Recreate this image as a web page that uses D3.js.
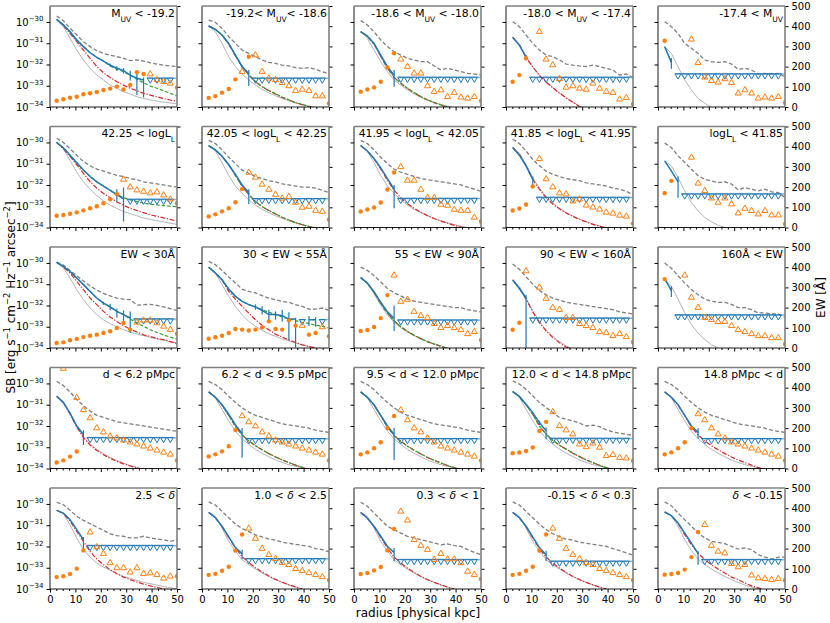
<!DOCTYPE html>
<html>
<head>
<meta charset="utf-8">
<script src="https://cdn.jsdelivr.net/npm/d3@7"></script>
<style>
  body { margin: 0; background: #fff; }
  text { font-family: "DejaVu Sans", sans-serif; }
</style>
</head>
<body>
<svg id="chart" width="830" height="623"></svg>
<script>
const _ = null;

// radial bins [physical kpc]
const radius = [2.63, 5.26, 7.89, 10.53, 13.16, 15.79, 18.42, 21.05, 23.68, 26.32,
                28.95, 31.58, 34.21, 36.84, 39.47, 42.11, 44.74, 47.37, 50.0];
const binHalf = 1.32;

const panelLabels = [
  "M_{UV} < -19.2", "-19.2< M_{UV}< -18.6", "-18.6 < M_{UV} < -18.0", "-18.0 < M_{UV} < -17.4", "-17.4 < M_{UV}",
  "42.25 < logL_{L}", "42.05 < logL_{L} < 42.25", "41.95 < logL_{L} < 42.05", "41.85 < logL_{L} < 41.95", "logL_{L} < 41.85",
  "EW < 30Å", "30 < EW < 55Å", "55 < EW < 90Å", "90 < EW < 160Å", "160Å < EW",
  "d < 6.2 pMpc", "6.2 < d < 9.5 pMpc", "9.5 < d < 12.0 pMpc", "12.0 < d < 14.8 pMpc", "14.8 pMpc < d",
  "2.5 < δ", "1.0 < δ < 2.5", "0.3 < δ < 1", "-0.15 < δ < 0.3", "δ < -0.15"
];

// log10 SB of the detected profile (blue)
const sbProfile = [
  [-29.88,-30.14,-30.46,-30.85,-31.16,-31.45,-31.67,-31.84,-32.03,-32.18,-32.29,-32.5,-32.65,-32.73,_,_,_,_,_],
  [-30.19,-30.35,-30.61,-31.01,-31.56,-32.1,-32.42,_,_,_,_,_,_,_,_,_,_,_,_],
  [-30.46,-30.66,-31.01,-31.56,-32.1,-32.5,_,_,_,_,_,_,_,_,_,_,_,_,_],
  [-30.72,-31.09,-31.64,_,_,_,_,_,_,_,_,_,_,_,_,_,_,_,_],
  [-31.16,-31.9,_,_,_,_,_,_,_,_,_,_,_,_,_,_,_,_,_],
  [-30.0,-30.25,-30.6,-30.95,-31.3,-31.6,-31.85,-32.05,-32.25,-32.45,-32.65,_,_,_,_,_,_,_,_],
  [-30.15,-30.35,-30.65,-31.05,-31.5,-32.0,-32.35,_,_,_,_,_,_,_,_,_,_,_,_],
  [-30.15,-30.4,-30.75,-31.2,-31.7,-32.2,_,_,_,_,_,_,_,_,_,_,_,_,_],
  [-30.24,-30.6,-31.1,-31.74,_,_,_,_,_,_,_,_,_,_,_,_,_,_,_],
  [-30.87,-31.34,-31.85,_,_,_,_,_,_,_,_,_,_,_,_,_,_,_,_],
  [-29.97,-30.16,-30.4,-30.71,-31.02,-31.34,-31.65,-31.89,-32.07,-32.28,-32.43,-32.59,_,_,_,_,_,_,_],
  [-30.2,-30.47,-30.79,-31.23,-31.57,-31.81,-31.96,-32.07,-32.23,-32.43,-32.43,-32.48,-32.64,-32.64,_,-32.67,-32.67,_,_],
  [-30.69,-30.95,-31.35,-31.85,-32.3,-32.6,_,_,_,_,_,_,_,_,_,_,_,_,_],
  [-30.8,-31.2,-31.65,_,_,_,_,_,_,_,_,_,_,_,_,_,_,_,_],
  [-30.75,-31.3,_,_,_,_,_,_,_,_,_,_,_,_,_,_,_,_,_],
  [-30.6,-30.9,-31.4,-32.0,-32.4,_,_,_,_,_,_,_,_,_,_,_,_,_,_],
  [-30.4,-30.65,-31.0,-31.45,-31.95,-32.35,_,_,_,_,_,_,_,_,_,_,_,_,_],
  [-30.4,-30.65,-31.0,-31.5,-32.0,-32.4,_,_,_,_,_,_,_,_,_,_,_,_,_],
  [-30.38,-30.61,-30.98,-31.37,-31.84,-32.23,_,_,_,_,_,_,_,_,_,_,_,_,_],
  [-30.4,-30.65,-31.0,-31.5,-32.0,-32.3,_,_,_,_,_,_,_,_,_,_,_,_,_],
  [-30.3,-30.43,-30.74,-31.21,-31.68,_,_,_,_,_,_,_,_,_,_,_,_,_,_],
  [-30.4,-30.65,-31.05,-31.55,-32.05,-32.35,_,_,_,_,_,_,_,_,_,_,_,_,_],
  [-30.4,-30.67,-31.05,-31.52,-32.0,-32.28,_,_,_,_,_,_,_,_,_,_,_,_,_],
  [-30.4,-30.65,-31.05,-31.55,-32.05,-32.4,_,_,_,_,_,_,_,_,_,_,_,_,_],
  [-30.38,-30.55,-30.9,-31.37,-31.84,-32.34,_,_,_,_,_,_,_,_,_,_,_,_,_]
];

// error bars: [bin, log10 upper, log10 lower]
const sbErrors = [
  [[8,-31.95,-32.1],[9,-32.08,-32.3],[10,-32.17,-32.42],[11,-32.3,-32.75],[12,-32.42,-33.44],[13,-32.61,-33.55]],
  [[5,-32.02,-32.18],[6,-32.26,-33.01]],
  [[5,-32.26,-33.05]],
  [[2,-31.55,-31.8]],
  [[1,-31.7,-32.2]],
  [[9,-32.2,-32.8],[10,-32.12,-33.72]],
  [[6,-32.2,-32.9]],
  [[5,-32.0,-33.1]],
  [[3,-31.6,-32.0]],
  [[2,-31.6,-32.6]],
  [[7,-31.82,-31.97],[8,-31.92,-32.22],[9,-32.15,-32.57],[10,-32.23,-32.85],[11,-32.28,-33.29]],
  [[7,-31.95,-32.2],[8,-32.04,-32.43],[9,-32.2,-32.75],[10,-32.28,-32.67],[11,-32.2,-32.75],[12,-32.32,-33.65],[13,-32.58,-33.97],[15,-32.5,-32.97],[16,-32.55,-33.0]],
  [[5,-32.0,-33.2]],
  [[2,-31.5,-34.0]],
  [[1,-31.1,-31.6]],
  [[4,-32.2,-32.9]],
  [[5,-32.1,-33.5]],
  [[5,-32.1,-33.6]],
  [[4,-31.75,-31.95],[5,-32.07,-32.62]],
  [[5,-32.1,-32.6]],
  [[4,-31.56,-32.12]],
  [[5,-32.15,-32.6]],
  [[5,-32.07,-32.7]],
  [[5,-32.2,-32.7]],
  [[5,-32.23,-32.86]]
];

// upper limits: log10 level and bins
const ulLevel = [-32.65,-32.65,-32.61,-32.61,-32.45, -32.68,-32.65,-32.64,-32.59,-32.43,
                 -32.64,-32.67,-32.69,-32.6,-32.45, -32.55,-32.6,-32.6,-32.59,-32.6,
                 -31.96,-32.58,-32.62,-32.7,-32.62];
const ulBins = [
  [14,15,16,17], [7,8,9,10,11,12,13,14,15,16,17], [6,7,8,9,10,11,12,13,14,15,16,17],
  [3,4,5,6,7,8,9,10,11,12,13,14,15,16,17], [2,3,4,5,6,7,8,9,10,11,12,13,14,15,16,17],
  [11,12,13,14,15,16,17], [7,8,9,10,11,12,13,14,15,16,17], [6,7,8,9,10,11,12,13,14,15,16,17],
  [4,5,6,7,8,9,10,11,12,13,14,15,16,17], [3,4,5,6,7,8,9,10,11,12,13,14,15,16,17],
  [12,13,14,15,16,17], [14,17], [6,7,8,9,10,11,12,13,14,15,16,17],
  [3,4,5,6,7,8,9,10,11,12,13,14,15,16,17], [2,3,4,5,6,7,8,9,10,11,12,13,14,15,16,17],
  [5,6,7,8,9,10,11,12,13,14,15,16,17], [6,7,8,9,10,11,12,13,14,15,16,17], [6,7,8,9,10,11,12,13,14,15,16,17],
  [6,7,8,9,10,11,12,13,14,15,16,17], [6,7,8,9,10,11,12,13,14,15,16,17],
  [5,6,7,8,9,10,11,12,13,14,15,16,17], [6,7,8,9,10,11,12,13,14,15,16,17], [6,7,8,9,10,11,12,13,14,15,16,17],
  [6,7,8,9,10,11,12,13,14,15,16,17], [6,7,8,9,10,11,12,13,14,15,16,17]
];

// grey dashed (upper envelope)
const noise = [
  [-29.72,-29.94,-30.3,-30.61,-30.93,-31.16,-31.35,-31.48,-31.56,-31.63,-31.71,-31.82,-31.79,-31.84,-31.92,-31.98,-32.03,-32.07,-32.1],
  [-29.91,-30.02,-30.3,-30.69,-31.01,-31.32,-31.48,-31.63,-31.79,-31.9,-31.95,-32.03,-32.07,-32.15,-32.18,-32.15,-32.23,-32.34,-32.42],
  [-29.94,-30.14,-30.46,-30.85,-31.16,-31.4,-31.56,-31.71,-31.79,-31.87,-31.87,-32.07,-32.26,-32.18,-32.26,-32.34,-32.42,-32.45,-32.5],
  [-29.99,-30.22,-30.61,-31.01,-31.32,-31.56,-31.63,-31.79,-31.98,-32.03,-32.07,-32.1,-32.03,-32.1,-32.18,-32.26,-32.5,-32.45,-32.61],
  [-29.99,-30.22,-30.54,-31.01,-31.24,-31.48,-31.79,-31.87,-31.9,-31.87,-31.98,-32.23,-32.18,-32.26,-32.45,-32.42,-32.45,-32.42,-32.58],
  [-29.8,-30.0,-30.3,-30.6,-30.9,-31.1,-31.25,-31.35,-31.45,-31.55,-31.6,-31.7,-31.75,-31.85,-31.9,-31.95,-32.0,-32.05,-32.1],
  [-29.9,-30.05,-30.35,-30.7,-31.0,-31.3,-31.45,-31.6,-31.7,-31.8,-31.85,-31.95,-32.0,-32.05,-32.1,-32.1,-32.15,-32.25,-32.35],
  [-29.9,-30.05,-30.35,-30.7,-31.0,-31.25,-31.4,-31.5,-31.6,-31.7,-31.75,-31.8,-31.85,-31.9,-31.95,-32.0,-32.1,-32.2,-32.3],
  [-29.85,-30.05,-30.4,-30.8,-31.1,-31.35,-31.5,-31.6,-31.7,-31.75,-31.8,-31.9,-31.95,-32.0,-32.05,-32.15,-32.2,-32.3,-32.45],
  [-30.03,-30.24,-30.63,-30.94,-31.26,-31.57,-31.73,-31.81,-31.89,-31.85,-31.96,-32.23,-32.12,-32.2,-32.28,-32.2,-32.32,-32.36,-32.59],
  [-29.97,-30.1,-30.35,-30.6,-30.85,-31.08,-31.28,-31.43,-31.55,-31.65,-31.7,-31.72,-31.98,-31.96,-31.95,-32.0,-32.07,-32.15,-32.23],
  [-29.92,-30.08,-30.35,-30.66,-30.94,-31.23,-31.34,-31.41,-31.54,-31.65,-31.73,-31.81,-31.85,-31.96,-32.04,-32.17,-32.17,-32.12,-32.23],
  [-30.2,-30.35,-30.6,-30.9,-31.2,-31.4,-31.55,-31.7,-31.8,-31.85,-31.9,-31.95,-32.0,-32.05,-32.1,-32.1,-32.2,-32.25,-32.3],
  [-30.05,-30.3,-30.65,-31.0,-31.3,-31.5,-31.65,-31.75,-31.85,-31.9,-31.95,-32.0,-32.05,-32.1,-32.15,-32.2,-32.3,-32.35,-32.4],
  [-30.0,-30.25,-30.6,-30.95,-31.25,-31.5,-31.7,-31.8,-31.85,-31.85,-31.95,-32.1,-32.1,-32.2,-32.35,-32.35,-32.4,-32.4,-32.55],
  [-29.9,-30.1,-30.4,-30.75,-31.05,-31.3,-31.5,-31.6,-31.7,-31.8,-31.85,-31.9,-31.95,-32.0,-32.05,-32.1,-32.15,-32.2,-32.25],
  [-29.9,-30.05,-30.3,-30.6,-30.9,-31.15,-31.35,-31.5,-31.6,-31.7,-31.8,-31.9,-31.95,-32.0,-32.05,-32.1,-32.2,-32.25,-32.3],
  [-29.9,-30.05,-30.3,-30.6,-30.9,-31.15,-31.35,-31.5,-31.6,-31.7,-31.8,-31.9,-31.95,-32.0,-32.05,-32.1,-32.2,-32.25,-32.3],
  [-29.88,-30.03,-30.27,-30.58,-30.9,-31.13,-31.37,-31.6,-31.68,-31.76,-31.87,-32.0,-31.96,-32.03,-32.18,-32.28,-32.34,-32.4,-32.43],
  [-29.9,-30.05,-30.3,-30.6,-30.9,-31.15,-31.35,-31.5,-31.6,-31.7,-31.8,-31.9,-31.95,-32.0,-32.05,-32.1,-32.2,-32.25,-32.3],
  [-29.92,-30.03,-30.3,-30.58,-30.77,-30.93,-31.09,-31.24,-31.41,-31.49,-31.52,-31.6,-31.6,-31.52,-31.6,-31.65,-31.68,-31.76,-31.68],
  [-29.9,-30.05,-30.35,-30.65,-30.95,-31.15,-31.3,-31.45,-31.55,-31.65,-31.7,-31.8,-31.85,-31.9,-31.95,-32.0,-32.1,-32.15,-32.25],
  [-29.92,-30.11,-30.43,-30.74,-31.05,-31.21,-31.37,-31.52,-31.6,-31.68,-31.76,-31.84,-31.92,-31.88,-31.96,-32.0,-32.15,-32.28,-32.39],
  [-29.9,-30.05,-30.35,-30.65,-30.95,-31.2,-31.4,-31.55,-31.65,-31.7,-31.8,-31.85,-31.9,-31.95,-32.0,-32.1,-32.2,-32.3,-32.4],
  [-29.91,-30.08,-30.43,-30.74,-31.05,-31.37,-31.6,-31.76,-31.81,-31.87,-32.0,-32.12,-32.07,-32.15,-32.39,-32.5,-32.59,-32.5,-32.5]
];

// thin grey (PSF)
const psf = [
  [-29.91,-30.22,-30.77,-31.32,-31.79,-32.18,-32.5,-32.73,-32.97,-33.12,-33.28,-33.39,-33.52,-33.6,-33.67,-33.72,-33.77,-33.81,-33.85],
  [-30.19,-30.46,-31.01,-31.64,-32.1,-32.45,-32.73,-32.97,-33.17,-33.33,-33.47,-33.6,-33.7,-33.8,-33.88,-33.96,-34.02,_,_],
  [-30.46,-30.77,-31.32,-31.87,-32.34,-32.73,-32.97,-33.2,-33.39,-33.55,-33.67,-33.78,-33.88,-33.96,-34.03,_,_,_,_],
  [-30.72,-31.05,-31.64,-32.1,-32.5,-32.81,-33.08,-33.33,-33.55,-33.76,-33.96,-34.1,_,_,_,_,_,_,_],
  [-31.16,-31.48,-32.1,-32.73,-33.2,-33.6,-33.83,-34.02,_,_,_,_,_,_,_,_,_,_,_],
  [-30.0,-30.3,-30.85,-31.4,-31.85,-32.2,-32.5,-32.75,-32.95,-33.1,-33.25,-33.35,-33.45,-33.55,-33.62,-33.68,-33.74,-33.8,-33.85],
  [-30.15,-30.4,-30.95,-31.55,-32.05,-32.4,-32.7,-32.95,-33.15,-33.3,-33.45,-33.57,-33.68,-33.78,-33.86,-33.94,-34.0,_,_],
  [-30.15,-30.4,-30.95,-31.55,-32.05,-32.4,-32.7,-32.95,-33.15,-33.3,-33.45,-33.57,-33.68,-33.78,-33.86,-33.94,-34.0,_,_],
  [-30.24,-30.5,-31.05,-31.65,-32.15,-32.55,-32.85,-33.1,-33.3,-33.45,-33.6,-33.72,-33.83,-33.92,-34.0,_,_,_,_],
  [-30.87,-31.1,-31.65,-32.28,-32.83,-33.22,-33.53,-33.74,-33.89,-34.0,_,_,_,_,_,_,_,_,_],
  [-29.97,-30.24,-30.71,-31.26,-31.73,-32.12,-32.43,-32.67,-32.86,-33.01,-33.14,-33.25,-33.34,-33.42,-33.5,-33.58,-33.64,-33.7,-33.76],
  [-30.2,-30.47,-31.02,-31.57,-32.04,-32.43,-32.75,-32.98,-33.17,-33.33,-33.45,-33.58,-33.66,-33.77,-33.85,-33.93,-34.0,_,_],
  [-30.69,-30.95,-31.45,-32.0,-32.45,-32.8,-33.05,-33.25,-33.42,-33.57,-33.7,-33.8,-33.9,-34.0,_,_,_,_,_],
  [-30.8,-31.1,-31.65,-32.25,-32.75,-33.15,-33.45,-33.7,-33.9,-34.05,_,_,_,_,_,_,_,_,_],
  [-30.75,-31.1,-31.7,-32.35,-32.9,-33.3,-33.6,-33.85,-34.0,_,_,_,_,_,_,_,_,_,_],
  [-30.6,-30.85,-31.4,-32.0,-32.5,-32.85,-33.1,-33.3,-33.48,-33.62,-33.75,-33.86,-33.95,-34.03,_,_,_,_,_],
  [-30.4,-30.68,-31.22,-31.77,-32.24,-32.6,-32.87,-33.1,-33.29,-33.45,-33.6,-33.72,-33.82,-33.9,-33.97,-34.05,_,_,_],
  [-30.4,-30.68,-31.22,-31.77,-32.24,-32.6,-32.87,-33.1,-33.29,-33.45,-33.6,-33.72,-33.82,-33.9,-33.97,-34.05,_,_,_],
  [-30.38,-30.66,-31.21,-31.76,-32.23,-32.59,-32.86,-33.09,-33.28,-33.44,-33.6,-33.72,-33.82,-33.88,-33.96,-34.03,_,_,_],
  [-30.4,-30.68,-31.22,-31.77,-32.24,-32.6,-32.87,-33.1,-33.29,-33.45,-33.6,-33.72,-33.82,-33.9,-33.97,-34.05,_,_,_],
  [-30.3,-30.46,-30.98,-31.6,-32.15,-32.5,-32.78,-32.97,-33.12,-33.28,-33.41,-33.5,-33.6,-33.69,-33.75,-33.82,-33.88,-33.94,-33.99],
  [-30.4,-30.58,-31.13,-31.76,-32.23,-32.62,-32.86,-33.06,-33.25,-33.41,-33.56,-33.69,-33.82,-33.91,-34.0,_,_,_,_],
  [-30.4,-30.58,-31.13,-31.76,-32.23,-32.62,-32.86,-33.06,-33.25,-33.41,-33.56,-33.69,-33.82,-33.91,-34.0,_,_,_,_],
  [-30.4,-30.58,-31.13,-31.76,-32.23,-32.62,-32.86,-33.06,-33.25,-33.41,-33.56,-33.69,-33.82,-33.91,-34.0,_,_,_,_],
  [-30.38,-30.55,-31.05,-31.68,-32.2,-32.59,-32.86,-33.06,-33.25,-33.41,-33.56,-33.69,-33.82,-33.91,-34.0,_,_,_,_]
];

// red dash-dot model
const model = [
  [-29.88,-30.16,-30.54,-30.93,-31.32,-31.71,-32.1,-32.39,-32.61,-32.81,-32.97,-33.12,-33.23,-33.36,-33.44,-33.52,-33.6,-33.67,-33.72],
  [-30.19,-30.35,-30.61,-31.05,-31.6,-32.1,-32.5,-32.81,-33.05,-33.23,-33.39,-33.55,-33.67,-33.8,-33.89,-33.99,-34.07,_,_],
  [-30.46,-30.68,-31.05,-31.62,-32.18,-32.61,-32.89,-33.13,-33.33,-33.52,-33.67,-33.8,-33.91,-34.02,_,_,_,_,_],
  [-30.72,-31.08,-31.66,-32.12,-32.52,-32.83,-33.1,-33.35,-33.57,-33.78,-33.98,-34.12,_,_,_,_,_,_,_],
  [_,_,_,_,_,_,_,_,_,_,_,_,_,_,_,_,_,_,_],
  [-30.0,-30.3,-30.65,-31.05,-31.45,-31.85,-32.15,-32.4,-32.6,-32.8,-32.95,-33.1,-33.2,-33.3,-33.4,-33.47,-33.55,-33.62,-33.7],
  [-30.15,-30.35,-30.65,-31.05,-31.55,-32.05,-32.45,-32.78,-33.02,-33.2,-33.36,-33.52,-33.65,-33.77,-33.87,-33.96,-34.05,_,_],
  [-30.15,-30.4,-30.78,-31.25,-31.78,-32.25,-32.6,-32.88,-33.1,-33.28,-33.44,-33.58,-33.7,-33.8,-33.9,-33.98,-34.05,_,_],
  [-30.24,-30.55,-31.1,-31.74,-32.2,-32.6,-32.9,-33.12,-33.32,-33.48,-33.62,-33.74,-33.85,-33.94,-34.02,_,_,_,_],
  [_,_,_,_,_,_,_,_,_,_,_,_,_,_,_,_,_,_,_],
  [-29.97,-30.19,-30.47,-30.87,-31.26,-31.65,-31.96,-32.28,-32.54,-32.75,-32.95,-33.11,-33.25,-33.38,-33.46,-33.55,-33.61,-33.7,-33.8],
  [-30.2,-30.47,-30.8,-31.34,-31.7,-32.04,-32.36,-32.67,-32.94,-33.14,-33.35,-33.49,-33.62,-33.74,-33.85,-33.93,-34.0,_,_],
  [-30.69,-30.95,-31.38,-31.9,-32.35,-32.72,-33.0,-33.22,-33.4,-33.56,-33.7,-33.82,-33.92,-34.02,_,_,_,_,_],
  [-30.8,-31.2,-31.7,-32.3,-32.8,-33.2,-33.5,-33.75,-33.95,-34.1,_,_,_,_,_,_,_,_,_],
  [_,_,_,_,_,_,_,_,_,_,_,_,_,_,_,_,_,_,_],
  [-30.6,-30.9,-31.45,-32.05,-32.55,-32.9,-33.15,-33.35,-33.52,-33.66,-33.78,-33.88,-33.97,-34.05,_,_,_,_,_],
  [-30.4,-30.65,-31.02,-31.5,-32.02,-32.42,-32.7,-32.93,-33.12,-33.3,-33.46,-33.6,-33.72,-33.84,-33.95,-34.05,_,_,_],
  [-30.4,-30.65,-31.02,-31.52,-32.05,-32.45,-32.72,-32.95,-33.14,-33.32,-33.48,-33.62,-33.74,-33.86,-33.96,-34.05,_,_,_],
  [-30.38,-30.62,-31.0,-31.45,-32.0,-32.39,-32.67,-32.91,-33.09,-33.28,-33.44,-33.6,-33.72,-33.85,-33.96,-34.05,_,_,_],
  [-30.4,-30.65,-31.02,-31.52,-32.05,-32.42,-32.7,-32.93,-33.12,-33.3,-33.46,-33.6,-33.72,-33.84,-33.95,-34.05,_,_,_],
  [-30.3,-30.45,-30.8,-31.29,-31.76,-32.23,-32.59,-32.86,-33.09,-33.28,-33.44,-33.56,-33.67,-33.77,-33.85,-33.93,-33.99,-34.05,-34.1],
  [-30.4,-30.65,-31.07,-31.58,-32.07,-32.48,-32.76,-33.0,-33.2,-33.39,-33.55,-33.68,-33.8,-33.9,-34.0,_,_,_,_],
  [-30.4,-30.67,-31.07,-31.58,-32.07,-32.5,-32.78,-33.02,-33.22,-33.41,-33.56,-33.69,-33.8,-33.91,-34.0,_,_,_,_],
  [-30.4,-30.65,-31.07,-31.6,-32.1,-32.5,-32.78,-33.02,-33.22,-33.41,-33.56,-33.69,-33.8,-33.91,-34.0,_,_,_,_],
  [-30.38,-30.55,-30.92,-31.45,-31.92,-32.31,-32.62,-32.86,-33.06,-33.25,-33.44,-33.56,-33.72,-33.85,-33.95,-34.05,_,_,_]
];

// green dashed fit
const fit = [
  [-29.88,-30.14,-30.46,-30.85,-31.16,-31.45,-31.67,-31.84,-32.07,-32.23,-32.34,-32.5,-32.7,-32.86,-33.01,-33.12,-33.23,-33.36,-33.47],
  [-30.19,-30.35,-30.61,-31.03,-31.58,-32.1,-32.48,-32.8,-33.04,-33.22,-33.38,-33.54,-33.66,-33.79,-33.88,-33.98,-34.06,_,_],
  [-30.46,-30.67,-31.03,-31.6,-32.16,-32.6,-32.88,-33.12,-33.32,-33.51,-33.66,-33.79,-33.9,-34.01,_,_,_,_,_],
  _, _,
  [-30.0,-30.25,-30.6,-30.95,-31.3,-31.6,-31.85,-32.05,-32.25,-32.45,-32.6,-32.7,-32.78,-32.85,-32.9,-32.94,-32.97,-33.0,-33.02],
  [-30.15,-30.35,-30.65,-31.05,-31.55,-32.05,-32.45,-32.78,-33.02,-33.2,-33.36,-33.52,-33.65,-33.77,-33.87,-33.96,-34.05,_,_],
  _, _, _,
  [-29.97,-30.16,-30.4,-30.71,-31.02,-31.34,-31.65,-31.89,-32.07,-32.28,-32.43,-32.64,-32.83,-32.98,-33.14,-33.27,-33.39,-33.49,-33.58],
  [-30.2,-30.47,-30.79,-31.23,-31.57,-31.81,-31.96,-32.07,-32.2,-32.32,-32.43,-32.54,-32.64,-32.71,-32.79,-32.85,-32.93,-32.98,-33.06],
  [-30.69,-30.95,-31.38,-31.9,-32.35,-32.72,-33.0,-33.22,-33.4,-33.56,-33.7,-33.82,-33.92,-34.02,_,_,_,_,_],
  _, _, _,
  [-30.4,-30.65,-31.02,-31.5,-32.02,-32.42,-32.7,-32.93,-33.12,-33.3,-33.46,-33.6,-33.72,-33.84,-33.95,-34.05,_,_,_],
  [-30.4,-30.65,-31.02,-31.52,-32.05,-32.45,-32.72,-32.95,-33.14,-33.32,-33.48,-33.62,-33.74,-33.86,-33.96,-34.05,_,_,_],
  [-30.38,-30.62,-31.0,-31.45,-32.0,-32.39,-32.67,-32.91,-33.09,-33.28,-33.44,-33.6,-33.72,-33.85,-33.96,-34.05,_,_,_],
  _, _, _, _, _, _
];

// EW [Å], detections (orange dots) and lower limits (orange triangles)
const ewDetected = [
  [31,38,46,51,63,68,74,84,91,101,87,109,172,163,_,_,_,_,97],
  [45,54,71,89,137,_,249,_,_,_,_,_,_,_,_,_,_,_,18],
  [76,87,97,125,196,266,_,_,_,_,_,_,_,_,_,_,_,_,31],
  [125,158,241,_,_,_,_,_,_,_,_,_,_,_,_,_,_,_,15],
  [328,_,_,_,_,_,_,_,_,_,_,_,_,_,_,_,_,_,21],
  [58,62,68,75,85,95,105,120,140,165,_,_,_,_,_,_,_,_,120],
  [55,65,80,95,125,190,_,_,_,_,_,_,_,_,_,_,_,_,40],
  [79,89,99,124,188,272,_,_,_,_,_,_,_,_,_,_,_,_,30],
  [84,94,114,203,_,_,_,_,_,_,_,_,_,_,_,_,_,_,20],
  [170,231,_,_,_,_,_,_,_,_,_,_,_,_,_,_,_,_,17],
  [25,28,38,45,54,61,66,74,83,99,124,91,_,_,_,_,_,_,71],
  [46,53,61,74,94,91,87,91,102,132,94,91,137,111,_,66,74,_,58],
  [84,89,104,148,262,_,_,_,_,_,_,_,_,_,_,_,_,_,40],
  [90,125,_,_,_,_,_,_,_,_,_,_,_,_,_,_,_,_,30],
  [341,_,_,_,_,_,_,_,_,_,_,_,_,_,_,_,_,_,20],
  [30,40,59,84,_,_,_,_,_,_,_,_,_,_,_,_,_,_,40],
  [60,70,85,110,190,_,_,_,_,_,_,_,_,_,_,_,_,_,40],
  [70,80,100,130,200,260,_,_,_,_,_,_,_,_,_,_,_,_,40],
  [76,79,87,104,186,231,_,_,_,_,_,_,_,_,_,_,_,_,38],
  [70,80,100,130,200,_,_,_,_,_,_,_,_,_,_,_,_,_,40],
  [59,63,74,101,191,_,_,_,_,_,_,_,_,_,_,_,_,_,63],
  [70,75,90,110,190,270,_,_,_,_,_,_,_,_,_,_,_,_,45],
  [74,79,92,109,191,297,_,_,_,_,_,_,_,_,_,_,_,_,50],
  [70,75,90,110,190,270,_,_,_,_,_,_,_,_,_,_,_,_,45],
  [71,74,79,96,158,282,_,_,_,_,_,_,_,_,_,_,_,_,43]
];
const ewLimit = [
  [_,_,_,_,_,_,_,_,_,_,_,_,_,_,163,134,125,117,_],
  [_,_,_,_,_,175,_,257,175,142,134,120,104,81,87,81,54,54,_],
  [_,_,_,_,_,_,236,200,167,167,104,76,84,51,71,48,43,51,_],
  [_,_,_,_,373,236,208,140,97,104,92,87,117,92,76,71,38,46,_],
  [_,_,_,_,335,219,147,130,122,139,120,68,84,68,43,48,43,51,_],
  [_,_,_,_,_,_,_,_,_,_,238,200,185,178,170,175,160,140,_],
  [_,_,_,_,_,_,272,248,213,188,163,144,153,124,99,104,84,79,_],
  [_,_,_,_,_,_,300,233,233,188,148,148,114,109,89,84,84,50,_],
  [_,_,_,_,340,240,200,170,165,130,140,110,100,90,75,70,60,55,_],
  [_,_,_,_,347,219,182,145,124,145,116,71,94,83,66,83,61,61,_],
  [_,_,_,_,_,_,_,_,_,_,_,_,127,137,137,124,107,91,_],
  [_,_,_,_,_,_,_,_,_,_,_,_,_,_,111,_,_,104,_],
  [_,_,_,_,_,360,230,240,180,160,150,120,100,110,100,90,70,80,_],
  [_,_,381,_,300,245,200,190,150,150,120,110,100,80,75,60,70,55,_],
  [_,_,_,360,250,200,150,140,130,130,110,90,80,70,60,60,50,50,_],
  [_,495,_,350,290,250,200,180,160,150,140,130,120,110,100,90,80,70,_],
  [_,_,_,_,_,260,230,210,180,160,140,130,120,110,100,90,80,70,_],
  [_,_,_,_,_,_,290,240,200,180,150,130,110,100,90,80,70,60,_],
  [_,_,_,_,_,_,280,211,190,170,120,107,125,104,63,68,54,51,_],
  [_,_,_,_,_,270,240,200,170,150,130,120,110,100,90,80,70,60,_],
  [_,_,_,_,_,281,208,175,129,104,104,83,104,76,79,71,53,63,_],
  [_,_,_,_,_,_,300,250,200,170,150,130,120,100,90,80,70,60,_],
  [_,_,_,_,_,_,384,340,244,215,195,145,175,148,148,129,87,71,_],
  [_,_,_,_,_,_,300,250,200,170,150,130,120,100,90,80,70,60,_],
  [_,_,_,_,_,_,318,215,186,178,125,109,120,68,54,51,46,51,_]
];

const decades = [1e-34, 1e-33, 1e-32, 1e-31, 1e-30];
const ewTicks = [0, 100, 200, 300, 400, 500];
const radiusTicks = [0, 10, 20, 30, 40, 50];
const radiusMinor = [2.5, 5, 7.5, 12.5, 15, 17.5, 22.5, 25, 27.5, 32.5, 35, 37.5, 42.5, 45, 47.5];

// ---- layout ----
const W = 127, H = 101;
const colLeft = [50, 202, 354, 506, 658];
const rowTop = [6, 126.5, 247, 367.5, 488];

const C = { blue: "#1f77b4", orange: "#ff7f0e", green: "#2ca02c", red: "#d62728", grey: "#7f7f7f", light: "#ababab" };

const svg = d3.select("#chart");

const x = d3.scaleLinear().domain([0, 50]).range([0, W]);
const y = d3.scaleLog().domain([1e-34, Math.pow(10, -29.25)]).range([H, 0]);
const yEW = d3.scaleLinear().domain([0, 500]).range([H, 0]);

function rich(sel, str, size) {
  str.split(/(_\{[^}]*\}|\^\{[^}]*\}|δ)/).forEach(part => {
    if (!part) return;
    if (part.startsWith("_{")) sel.append("tspan").attr("baseline-shift", "sub").attr("font-size", size * 0.7).text(part.slice(2, -1));
    else if (part.startsWith("^{")) sel.append("tspan").attr("baseline-shift", "super").attr("font-size", size * 0.7).text(part.slice(2, -1));
    else if (part === "δ") sel.append("tspan").attr("font-style", "italic").text(part);
    else sel.append("tspan").text(part);
  });
}

const sbLine = d3.line()
  .defined(d => d[1] != null)
  .x(d => x(d[0]))
  .y(d => y(Math.pow(10, d[1])));
const pairs = vals => vals.map((v, i) => [radius[i], v]);

const triUp = d3.symbol(d3.symbolTriangle, 16)();

for (let p = 0; p < 25; p++) {
  const r = Math.floor(p / 5), c = p % 5;
  const g = svg.append("g").attr("transform", `translate(${colLeft[c]},${rowTop[r]})`);

  g.append("clipPath").attr("id", "clip" + p)
    .append("rect").attr("width", W).attr("height", H);
  const plot = g.append("g").attr("clip-path", `url(#clip${p})`);

  // curves
  plot.append("path").attr("d", sbLine(pairs(noise[p])))
    .attr("fill", "none").attr("stroke", C.grey).attr("stroke-width", 1.3).attr("stroke-dasharray", "4,2.2");
  plot.append("path").attr("d", sbLine(pairs(psf[p])))
    .attr("fill", "none").attr("stroke", C.light).attr("stroke-width", 0.9);
  if (model[p].some(v => v != null))
    plot.append("path").attr("d", sbLine(pairs(model[p])))
      .attr("fill", "none").attr("stroke", C.red).attr("stroke-width", 1.2).attr("stroke-dasharray", "5,1.6,1.2,1.6");
  if (fit[p])
    plot.append("path").attr("d", sbLine(pairs(fit[p])))
      .attr("fill", "none").attr("stroke", C.green).attr("stroke-width", 1.2).attr("stroke-dasharray", "3.5,2");

  // profile + error bars
  plot.append("path").attr("d", sbLine(pairs(sbProfile[p])))
    .attr("fill", "none").attr("stroke", C.blue).attr("stroke-width", 1.5);
  plot.selectAll(".err").data(sbErrors[p]).join("line")
    .attr("x1", d => x(radius[d[0]])).attr("x2", d => x(radius[d[0]]))
    .attr("y1", d => y(Math.pow(10, d[1]))).attr("y2", d => y(Math.pow(10, d[2])))
    .attr("stroke", C.blue).attr("stroke-width", 1.2);

  // upper limits
  const bins = ulBins[p];
  const lvl = y(Math.pow(10, ulLevel[p]));
  plot.selectAll(".ulbar").data(bins).join("line")
    .attr("x1", i => x(radius[i] - binHalf))
    .attr("x2", i => i === 17 ? x(50) : x(radius[i] + binHalf))
    .attr("y1", lvl).attr("y2", lvl)
    .attr("stroke", C.blue).attr("stroke-opacity", 0.55).attr("stroke-width", 1.5);
  plot.selectAll(".ul").data(bins).join("path")
    .attr("d", triUp)
    .attr("transform", i => `translate(${x(radius[i])},${lvl + 1.5}) rotate(180)`)
    .attr("fill", "none").attr("stroke", C.blue).attr("stroke-width", 1);

  // EW (right axis)
  const det = ewDetected[p].map((v, i) => [radius[i], v]).filter(d => d[1] != null);
  plot.selectAll(".ewd").data(det).join("circle")
    .attr("cx", d => x(d[0])).attr("cy", d => yEW(d[1])).attr("r", 2.2)
    .attr("fill", C.orange);
  const lim = ewLimit[p].map((v, i) => [radius[i], v]).filter(d => d[1] != null);
  plot.selectAll(".ewl").data(lim).join("path")
    .attr("d", triUp)
    .attr("transform", d => `translate(${x(d[0])},${yEW(d[1])})`)
    .attr("fill", "none").attr("stroke", C.orange).attr("stroke-width", 1);

  // axes
  const ax = g.append("g").attr("transform", `translate(0,${H})`)
    .attr("font-size", 10).attr("font-family", "DejaVu Sans")
    .call(d3.axisBottom(x).tickValues(radiusTicks).tickSize(3.5).tickSizeOuter(0)
      .tickFormat(r === 4 ? d3.format("d") : () => ""));
  ax.select(".domain").remove();
  ax.selectAll("text").attr("fill", "#000");
  const axm = g.append("g").attr("transform", `translate(0,${H})`)
    .call(d3.axisBottom(x).tickValues(radiusMinor).tickSize(2).tickSizeOuter(0).tickFormat(() => ""));
  axm.select(".domain").remove();

  const ay = g.append("g").attr("font-size", 10).attr("font-family", "DejaVu Sans")
    .call(d3.axisLeft(y).tickValues(decades).tickSize(3.5).tickSizeOuter(0).tickFormat(() => ""));
  ay.select(".domain").remove();
  if (c === 0) {
    ay.selectAll(".tick text").attr("fill", "#000").each(function (d) {
      const t = d3.select(this);
      t.append("tspan").text("10");
      t.append("tspan").attr("dy", -4.5).attr("font-size", 7).text("−" + Math.round(-Math.log10(d)));
    });
  }

  const ar = g.append("g").attr("transform", `translate(${W},0)`)
    .attr("font-size", 10).attr("font-family", "DejaVu Sans")
    .call(d3.axisRight(yEW).tickValues(ewTicks).tickSize(3.5).tickSizeOuter(0)
      .tickFormat(c === 4 ? d3.format("d") : () => ""));
  ar.select(".domain").remove();
  ar.selectAll("text").attr("fill", "#000");

  // spines
  g.append("line").attr("x1", 0).attr("x2", 0).attr("y1", 0).attr("y2", H).attr("stroke", "#000").attr("stroke-width", 0.9);
  g.append("line").attr("x1", 0).attr("x2", W).attr("y1", H).attr("y2", H).attr("stroke", "#000").attr("stroke-width", 0.9);
  g.append("line").attr("x1", 0).attr("x2", W).attr("y1", 0).attr("y2", 0).attr("stroke", "#808080").attr("stroke-width", 1.6);
  g.append("line").attr("x1", W).attr("x2", W).attr("y1", 0).attr("y2", H).attr("stroke", "#808080").attr("stroke-width", 1.6);

  // label
  const lab = g.append("text").attr("x", W - 2).attr("y", 10.5)
    .attr("text-anchor", "end").attr("font-size", 10.8).attr("fill", "#000");
  rich(lab, panelLabels[p], 10.8);
}

// axis titles
svg.append("text").attr("x", 418).attr("y", 617).attr("text-anchor", "middle")
  .attr("font-size", 12).text("radius [physical kpc]");
const yl = svg.append("text").attr("transform", "translate(15,297.5) rotate(-90)")
  .attr("text-anchor", "middle").attr("font-size", 12);
rich(yl, "SB [erg s^{−1} cm^{−2} Hz^{−1} arcsec^{−2}]", 12);
svg.append("text").attr("transform", "translate(825,297.5) rotate(-90)")
  .attr("text-anchor", "middle").attr("font-size", 12).text("EW [Å]");
</script>
</body>
</html>
